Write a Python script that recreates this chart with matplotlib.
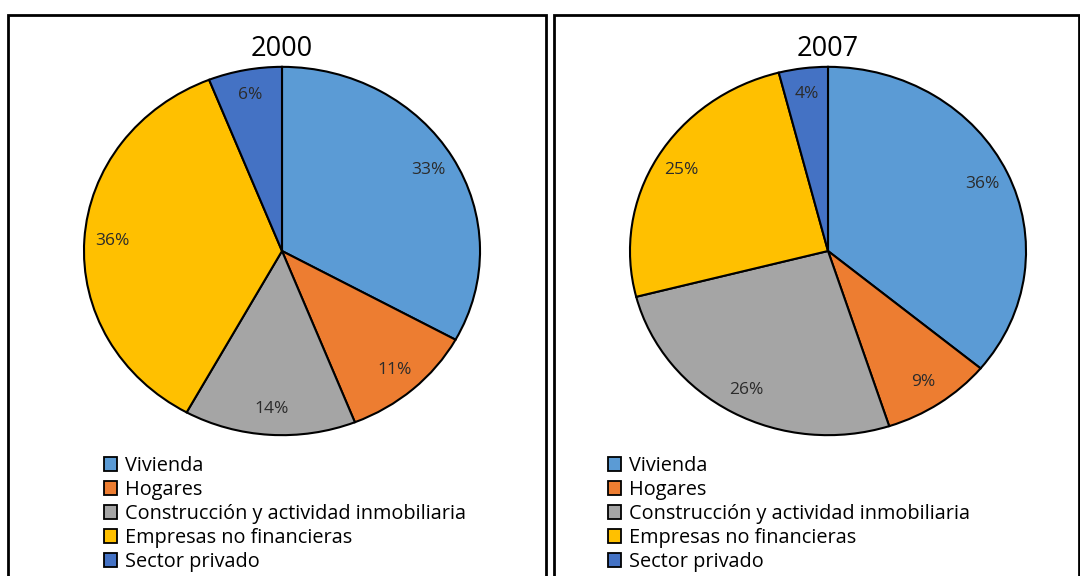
import matplotlib
matplotlib.use('Agg')
import matplotlib.pyplot as plt
from matplotlib.patches import Patch, Rectangle

plt.rcParams['font.family'] = ['Open Sans', 'DejaVu Sans']

categorias = ['Vivienda', 'Hogares', 'Construcción y actividad inmobiliaria',
              'Empresas no financieras', 'Sector privado']
valores_2000 = [33, 11, 14, 36, 6]
valores_2007 = [36, 9, 26, 25, 4]
colores = ['#5B9BD5', '#ED7D31', '#A5A5A5', '#FFC000', '#4472C4']

W, H = 1080, 576
fig = plt.figure(figsize=(W / 100, H / 100), dpi=100)

# marcos de cada panel
for x0, x1 in [(8, 546), (554, 1079)]:
    fig.add_artist(Rectangle((x0 / W, -0.01), (x1 - x0) / W, (H - 15) / H + 0.01,
                             transform=fig.transFigure, fill=False,
                             edgecolor='black', linewidth=2))

# (titulo, valores, centro x del pastel, x de la leyenda)
paneles = [('2000', valores_2000, 282, 104), ('2007', valores_2007, 828, 608)]
for titulo, valores, cx, lx in paneles:
    rx, ry, cy = 200, 186, 251
    ax = fig.add_axes([(cx - rx) / W, (H - cy - ry) / H, 2 * rx / W, 2 * ry / H])
    wedges, texts, autotexts = ax.pie(
        valores, colors=colores, startangle=90, counterclock=False,
        autopct='%1.0f%%', pctdistance=0.86,
        wedgeprops={'edgecolor': 'black', 'linewidth': 1.5},
        textprops={'fontsize': 12.5, 'color': '#2b2b2b'})
    ax.set_aspect('auto')
    ax.set_xlim(-1.01, 1.01)
    ax.set_ylim(-1.01, 1.01)
    fig.text(cx / W, (H - 49) / H, titulo, ha='center', va='center', fontsize=19.5)

    handles = [Patch(facecolor=c, edgecolor='black', linewidth=1.3) for c in colores]
    fig.legend(handles, categorias, loc='upper left',
               bbox_to_anchor=(lx / W, (H - 456) / H),
               frameon=False, fontsize=14.3, handlelength=0.65, handleheight=0.65,
               handletextpad=0.4, labelspacing=0.2, borderpad=0, borderaxespad=0)

fig.savefig('out.png', dpi=100)
